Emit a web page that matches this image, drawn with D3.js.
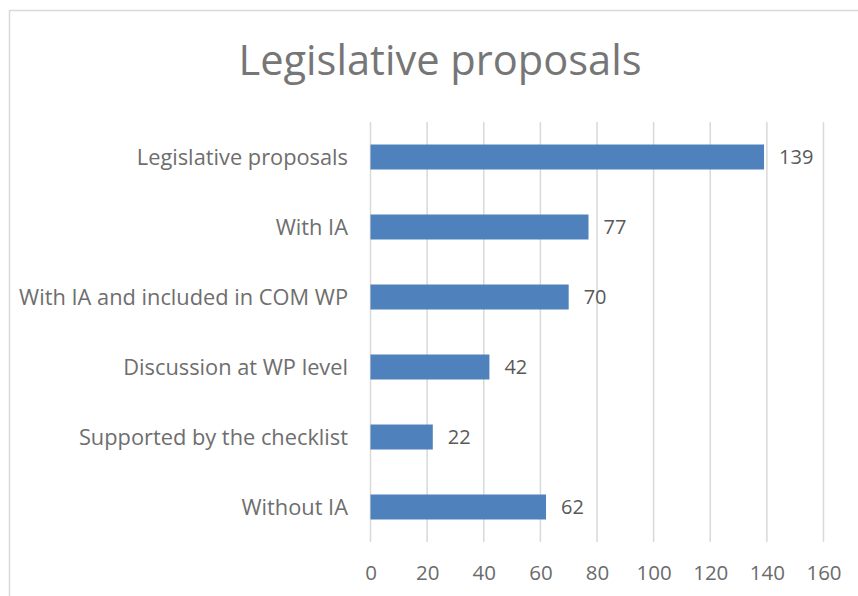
<!DOCTYPE html>
<html>
<head>
<meta charset="utf-8">
<script src="https://cdn.jsdelivr.net/npm/d3@7"></script>
<style>
  html, body { margin: 0; padding: 0; background: #fff; }
  svg { display: block; font-family: "Open Sans", sans-serif; }
</style>
</head>
<body>
<svg id="chart" width="858" height="596"></svg>
<script>
const titleText = "Legislative proposals";
const categories = [
  "Legislative proposals",
  "With IA",
  "With IA and included in COM WP",
  "Discussion at WP level",
  "Supported by the checklist",
  "Without IA"
];
const values = [139, 77, 70, 42, 22, 62];
const tickValues = [0, 20, 40, 60, 80, 100, 120, 140, 160];

const svg = d3.select("#chart");
const W = 858, H = 596;
const margin = { left: 370.5, right: 34.5, top: 122, bottom: 54 };

// outer chart border (cropped at right/bottom)
svg.append("rect")
  .attr("x", 9.5).attr("y", 10.5)
  .attr("width", 900).attr("height", 700)
  .attr("fill", "#fff")
  .attr("stroke", "#d9d9d9").attr("stroke-width", 1.5);

const x = d3.scaleLinear().domain([0, 160]).range([margin.left, W - margin.right]);
const y = d3.scaleBand().domain(categories).range([margin.top, H - margin.bottom])
  .paddingInner(0.643).paddingOuter(0.3215);

// gridlines
svg.append("g").selectAll("line").data(tickValues).join("line")
  .attr("x1", d => x(d)).attr("x2", d => x(d))
  .attr("y1", margin.top).attr("y2", H - margin.bottom)
  .attr("stroke", "#d9d9d9").attr("stroke-width", 1.5);

// x axis labels
const xAxis = d3.axisBottom(x).tickValues(tickValues).tickSize(0).tickPadding(0);
const gx = svg.append("g").attr("transform", `translate(0, ${H - margin.bottom})`).call(xAxis);
gx.select(".domain").remove();
gx.selectAll("text")
  .attr("dy", null).attr("y", 38)
  .attr("font-family", "'Open Sans', sans-serif")
  .attr("font-size", 20.5).attr("fill", "#6b6b6b");

// y axis labels
const yAxis = d3.axisLeft(y).tickSize(0).tickPadding(0);
const gy = svg.append("g").attr("transform", `translate(348, 0)`).call(yAxis);
gy.select(".domain").remove();
gy.selectAll("text")
  .attr("font-family", "'Open Sans', sans-serif")
  .attr("font-size", 21.8).attr("fill", "#6e6e6e")
  .attr("dy", "0.35em");

// bars
svg.append("g").selectAll("rect").data(values).join("rect")
  .attr("x", x(0))
  .attr("y", (d, i) => y(categories[i]))
  .attr("width", d => x(d) - x(0))
  .attr("height", y.bandwidth())
  .attr("fill", "#4f81bd");

// value labels
svg.append("g").selectAll("text").data(values).join("text")
  .attr("x", d => x(d) + 15)
  .attr("y", (d, i) => y(categories[i]) + y.bandwidth() / 2)
  .attr("dy", "0.36em")
  .attr("font-size", 20).attr("fill", "#595959")
  .text(d => d);

// title
svg.append("text")
  .attr("x", 440).attr("y", 75)
  .attr("text-anchor", "middle")
  .attr("font-size", 41.6).attr("fill", "#767676")
  .text(titleText);
</script>
</body>
</html>
